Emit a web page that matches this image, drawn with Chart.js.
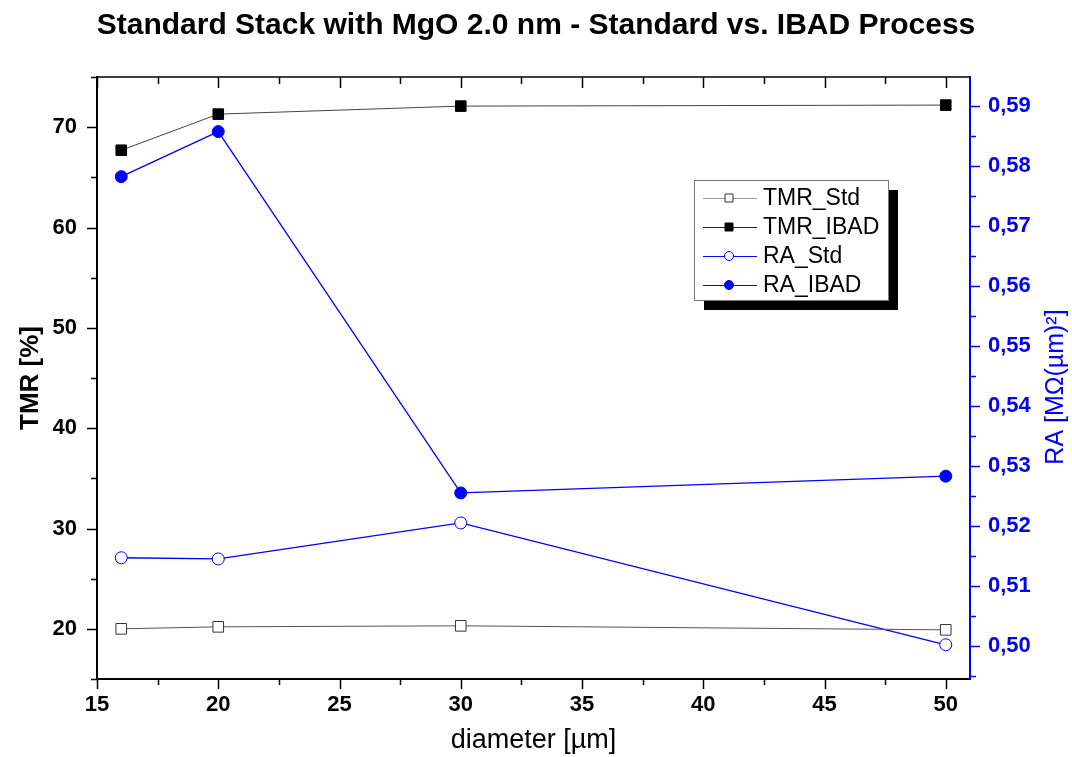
<!DOCTYPE html>
<html>
<head>
<meta charset="utf-8">
<script src="https://cdn.jsdelivr.net/npm/chart.js@4"></script>
<style>
body{margin:0;background:#fff;}
#wrap{width:1072px;height:757px;}
</style>
</head>
<body>
<div id="wrap"><canvas id="myChart" width="1072" height="757"></canvas></div>
<script>
const diameters = [16, 20, 30, 50];
const tmrStd = [20.0, 20.2, 20.3, 19.9];
const tmrIbad = [67.7, 71.3, 72.1, 72.2];
const raStd = [0.5147, 0.5145, 0.5205, 0.5002];
const raIbad = [0.5782, 0.5857, 0.5255, 0.5283];
const seriesNames = ['TMR_Std', 'TMR_IBAD', 'RA_Std', 'RA_IBAD'];
const chartTitle = 'Standard Stack with MgO 2.0 nm - Standard vs. IBAD Process';
const xTitle = 'diameter [µm]';
const yTitle = 'TMR [%]';
const y1Title = 'RA [MΩ(µm)²]';

const FONT = "'Liberation Sans', Arial, sans-serif";
const BLUE = '#0000ff';

const toPts = (ys) => diameters.map((d, i) => ({x: d, y: ys[i]}));

// minor / major tick marks drawn from the scale's own ticks
const tickMarks = {
    id: 'tickMarks',
    afterDraw(chart) {
        const ctx = chart.ctx;
        const a = chart.chartArea;
        ctx.save();
        ctx.lineWidth = 1.5;

        const xs = chart.scales.x;
        ctx.strokeStyle = '#000';
        xs.ticks.forEach(t => {
            const v = t.value;
            if (Math.abs(v * 2 - Math.round(v * 2)) > 1e-6) return;
            const major = Math.abs(v / 5 - Math.round(v / 5)) < 1e-6;
            const px = Math.round(xs.getPixelForValue(v)) + 0.5;
            ctx.beginPath();
            ctx.moveTo(px, a.bottom);
            ctx.lineTo(px, a.bottom + (major ? 10 : 6));
            ctx.moveTo(px, a.top);
            ctx.lineTo(px, a.top + (major ? 11 : 7));
            ctx.stroke();
        });

        const ys = chart.scales.y;
        ys.ticks.forEach(t => {
            const v = t.value;
            const major = Math.abs(v / 10 - Math.round(v / 10)) < 1e-6;
            const py = Math.round(ys.getPixelForValue(v)) + 0.5;
            ctx.beginPath();
            ctx.moveTo(a.left, py);
            ctx.lineTo(a.left - (major ? 10 : 6), py);
            ctx.stroke();
        });

        const y1 = chart.scales.y1;
        ctx.strokeStyle = BLUE;
        y1.ticks.forEach(t => {
            const v = t.value;
            const major = Math.abs(v * 100 - Math.round(v * 100)) < 1e-6;
            const py = Math.round(y1.getPixelForValue(v)) + 0.5;
            ctx.beginPath();
            ctx.moveTo(a.right, py);
            ctx.lineTo(a.right + (major ? 10 : 6), py);
            ctx.stroke();
        });

        // top frame line
        ctx.strokeStyle = '#000';
        ctx.lineWidth = 1.5;
        ctx.beginPath();
        ctx.moveTo(a.left, a.top);
        ctx.lineTo(a.right, a.top);
        ctx.stroke();

        // right axis title, reading bottom to top
        ctx.fillStyle = BLUE;
        ctx.font = '25px ' + FONT;
        ctx.textAlign = 'center';
        ctx.textBaseline = 'middle';
        ctx.translate(1056, 387);
        ctx.rotate(-Math.PI / 2);
        ctx.fillText(y1Title, 0, 0);
        ctx.restore();
    }
};

// boxed legend with drop shadow
const boxLegend = {
    id: 'boxLegend',
    afterDraw(chart) {
        const ctx = chart.ctx;
        const bx = 694, by = 180, bw = 194, bh = 120;
        ctx.save();
        ctx.fillStyle = '#000';
        ctx.fillRect(bx + 10, by + 10, bw, bh);
        ctx.fillStyle = '#fff';
        ctx.fillRect(bx, by, bw, bh);
        ctx.strokeStyle = '#777';
        ctx.lineWidth = 1;
        ctx.strokeRect(bx + 0.5, by + 0.5, bw, bh);

        ctx.font = '23px ' + FONT;
        ctx.textBaseline = 'middle';
        chart.data.datasets.forEach((ds, i) => {
            const y = by + 18 + i * 29;
            const mx = bx + 35;
            ctx.strokeStyle = ds.legendLine;
            ctx.lineWidth = 1;
            ctx.beginPath();
            ctx.moveTo(bx + 9, y + 0.5);
            ctx.lineTo(bx + 63, y + 0.5);
            ctx.stroke();
            ctx.fillStyle = ds.pointBackgroundColor;
            ctx.strokeStyle = ds.pointBorderColor;
            ctx.beginPath();
            if (ds.pointStyle === 'rect') {
                ctx.rect(mx - 4, y - 4, 8, 8);
            } else {
                ctx.arc(mx, y, 4.5, 0, Math.PI * 2);
            }
            ctx.fill();
            ctx.stroke();
            ctx.fillStyle = '#000';
            ctx.fillText(ds.label, bx + 69, y + 1);
        });
        ctx.restore();
    }
};

const ctx = document.getElementById('myChart');

new Chart(ctx, {
    type: 'line',
    data: {
        datasets: [{
            label: seriesNames[0],
            data: toPts(tmrStd),
            yAxisID: 'y',
            borderColor: '#555',
            legendLine: '#999',
            borderWidth: 1,
            pointStyle: 'rect',
            pointRadius: 7.5,
            pointBackgroundColor: '#fff',
            pointBorderColor: '#333',
            pointBorderWidth: 1
        }, {
            label: seriesNames[1],
            data: toPts(tmrIbad),
            yAxisID: 'y',
            borderColor: '#444',
            legendLine: '#222',
            borderWidth: 1,
            pointStyle: 'rect',
            pointRadius: 7.5,
            pointBackgroundColor: '#000',
            pointBorderColor: '#000',
            pointBorderWidth: 1
        }, {
            label: seriesNames[2],
            data: toPts(raStd),
            yAxisID: 'y1',
            borderColor: BLUE,
            legendLine: BLUE,
            borderWidth: 1.3,
            pointStyle: 'circle',
            pointRadius: 6,
            pointBackgroundColor: '#fff',
            pointBorderColor: BLUE,
            pointBorderWidth: 1
        }, {
            label: seriesNames[3],
            data: toPts(raIbad),
            yAxisID: 'y1',
            borderColor: BLUE,
            legendLine: BLUE,
            borderWidth: 1.3,
            pointStyle: 'circle',
            pointRadius: 6,
            pointBackgroundColor: BLUE,
            pointBorderColor: BLUE,
            pointBorderWidth: 1
        }]
    },
    options: {
        responsive: false,
        animation: false,
        layout: {padding: 0},
        plugins: {
            legend: {display: false},
            tooltip: {enabled: false},
            title: {
                display: true,
                text: chartTitle,
                color: '#000',
                font: {family: FONT, size: 30, weight: 'bold'},
                padding: {top: 8, bottom: 33}
            }
        },
        scales: {
            x: {
                type: 'linear',
                min: 15,
                max: 51,
                afterFit: s => { s.height = 78; },
                border: {color: '#000', width: 2},
                grid: {drawOnChartArea: false, drawTicks: false},
                ticks: {
                    stepSize: 2.5,
                    includeBounds: false,
                    autoSkip: false,
                    maxRotation: 0,
                    padding: 13,
                    color: '#000',
                    font: {family: FONT, size: 22, weight: 'bold'},
                    callback: v => Math.abs(v / 5 - Math.round(v / 5)) < 1e-6 ? String(v) : ''
                },
                title: {
                    display: true,
                    text: xTitle,
                    color: '#000',
                    font: {family: FONT, size: 27},
                    padding: {top: 0, bottom: 0}
                }
            },
            y: {
                position: 'left',
                min: 15,
                max: 75,
                afterFit: s => { s.width = 97; },
                border: {color: '#000', width: 2},
                grid: {drawOnChartArea: false, drawTicks: false},
                ticks: {
                    stepSize: 5,
                    includeBounds: false,
                    autoSkip: false,
                    padding: 20,
                    color: '#000',
                    font: {family: FONT, size: 22, weight: 'bold'},
                    callback: v => Math.abs(v / 10 - Math.round(v / 10)) < 1e-6 ? String(v) : ''
                },
                title: {
                    display: true,
                    text: yTitle,
                    color: '#000',
                    font: {family: FONT, size: 26, weight: 'bold'},
                    padding: {top: 15, bottom: 0}
                }
            },
            y1: {
                position: 'right',
                min: 0.4945,
                max: 0.5948,
                afterFit: s => { s.width = 102; },
                border: {color: BLUE, width: 2},
                grid: {drawOnChartArea: false, drawTicks: false},
                ticks: {
                    stepSize: 0.005,
                    includeBounds: false,
                    autoSkip: false,
                    padding: 18,
                    color: BLUE,
                    font: {family: FONT, size: 22, weight: 'bold'},
                    callback: v => Math.abs(v * 100 - Math.round(v * 100)) < 1e-6 ? v.toFixed(2).replace('.', ',') : ''
                }
            }
        }
    },
    plugins: [tickMarks, boxLegend]
});
</script>
</body>
</html>
